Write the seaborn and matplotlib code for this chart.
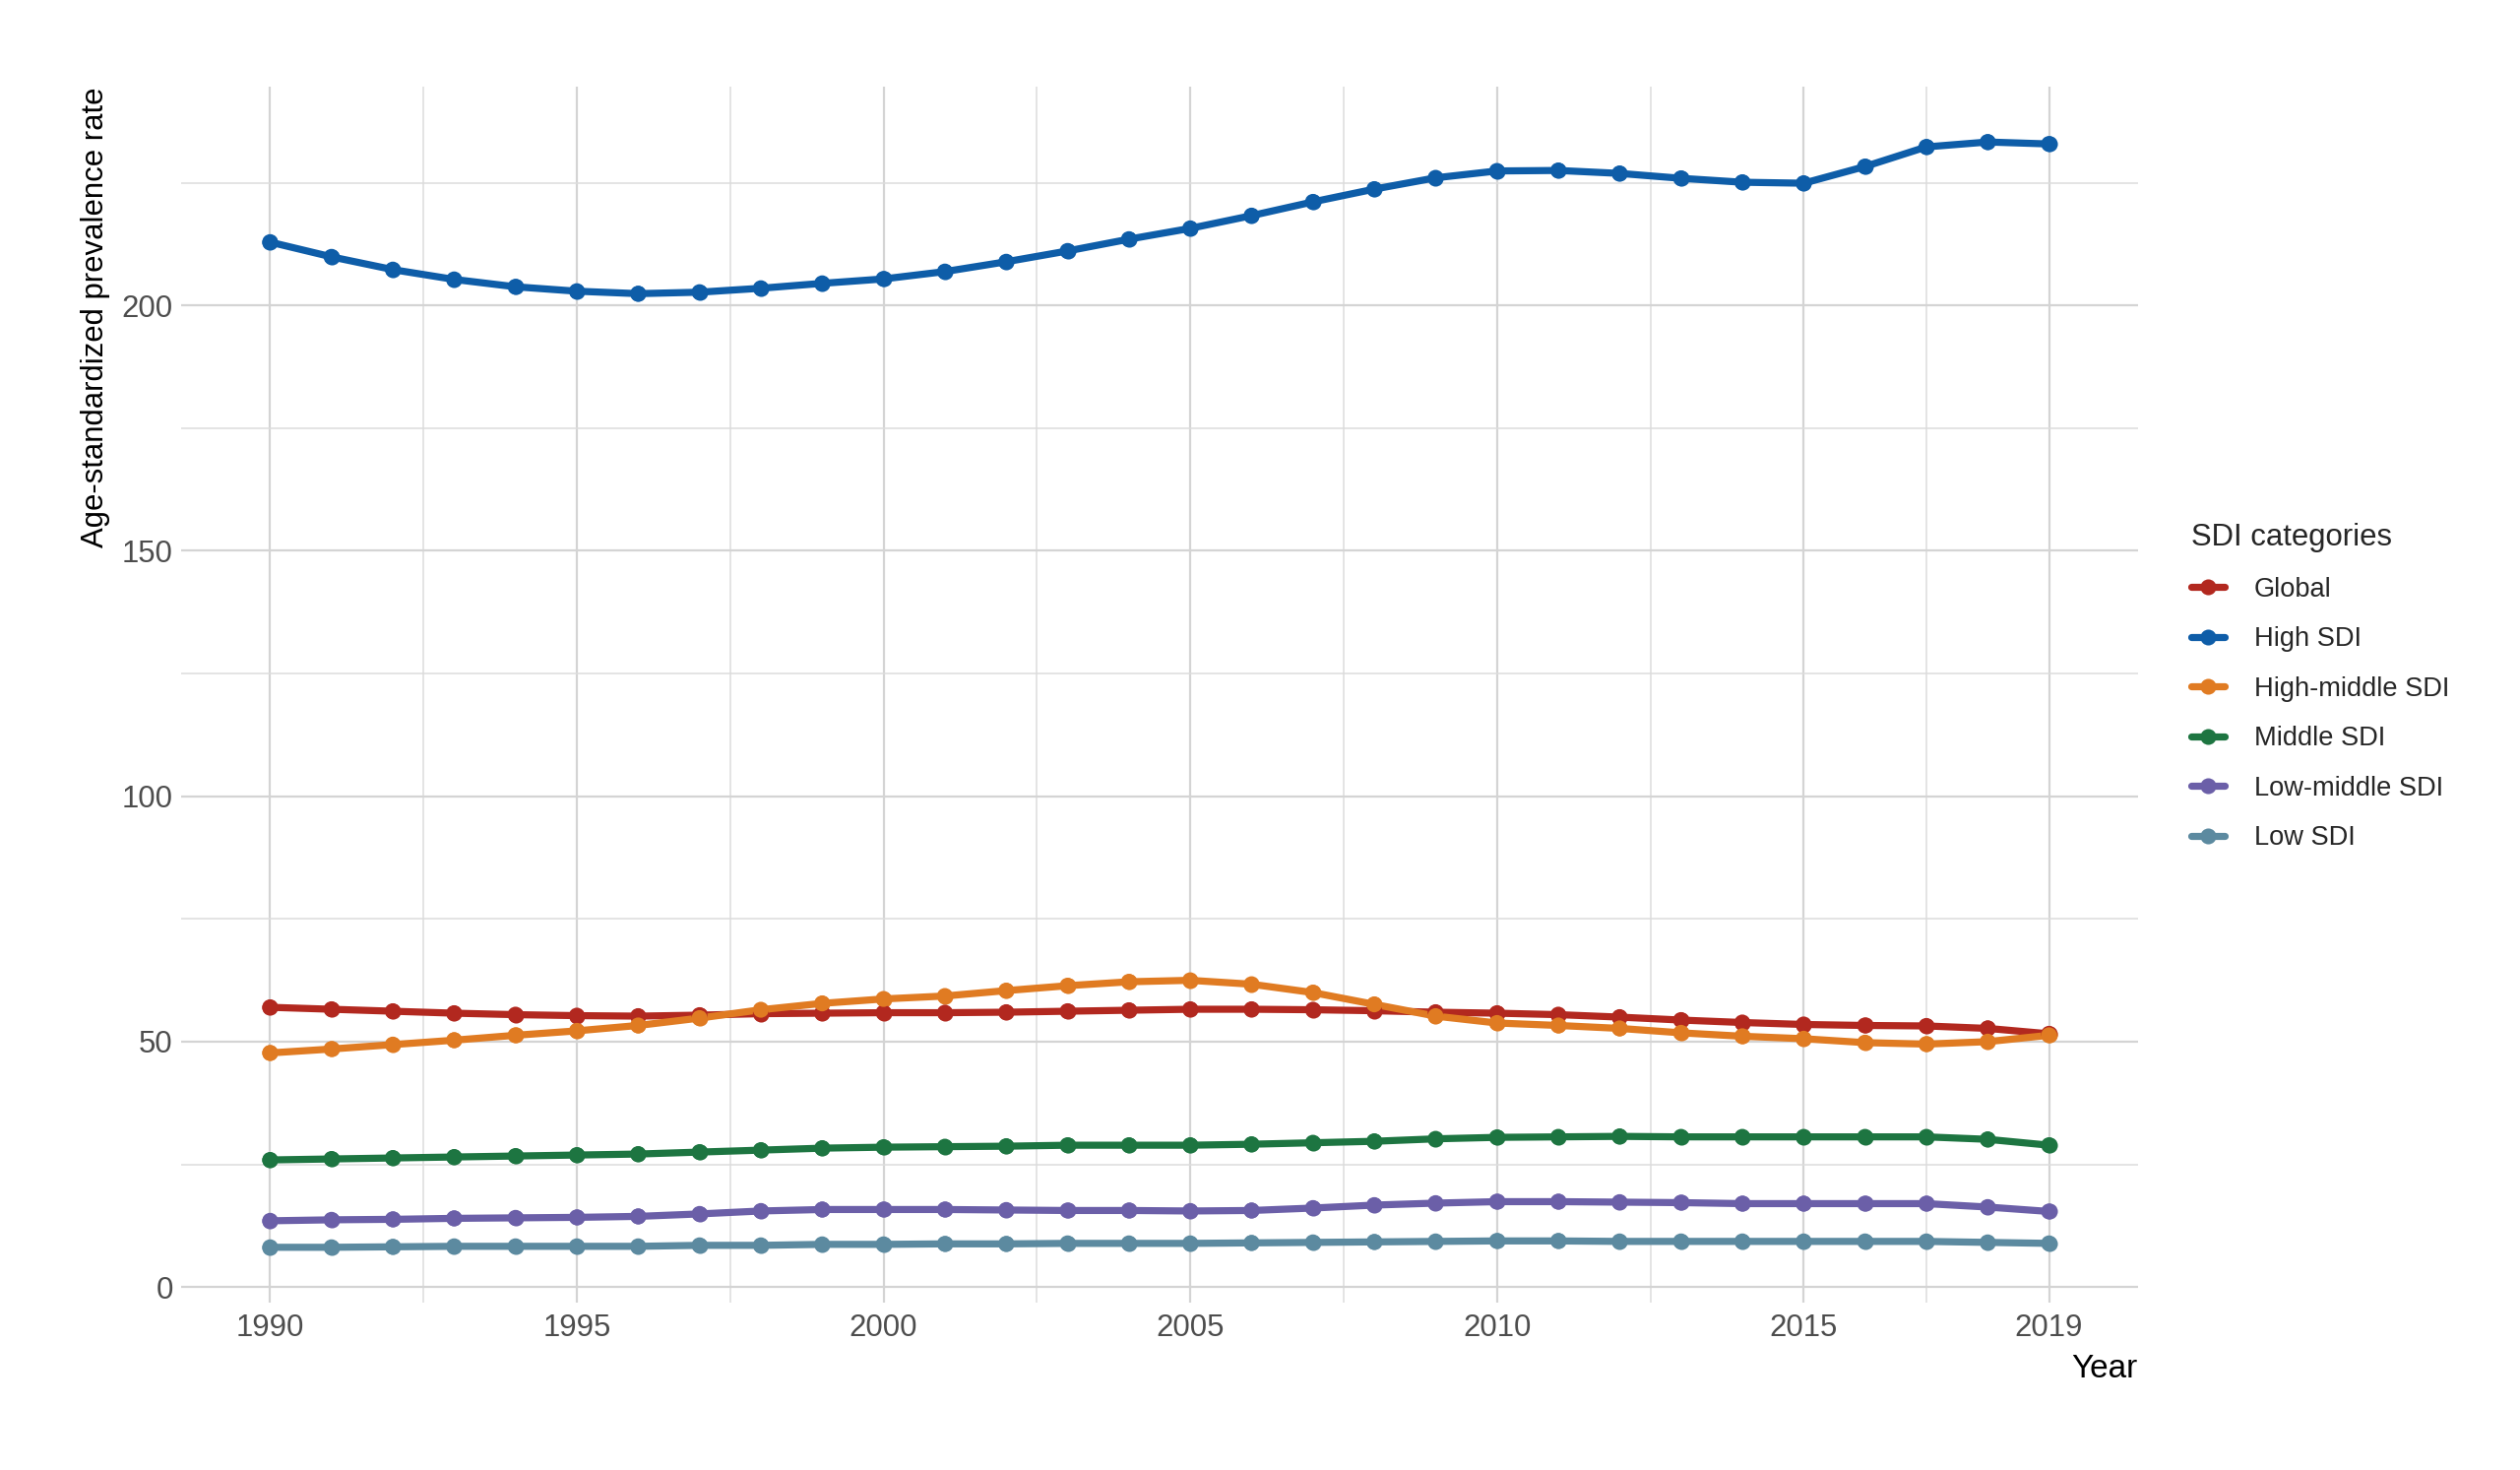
import numpy as np
import pandas as pd
import seaborn as sns
import matplotlib.pyplot as plt
from matplotlib.ticker import FixedLocator

# Age-standardized prevalence rate by SDI category, 1990-2019
years = list(range(1990, 2020))
categories = ['Global', 'High SDI', 'High-middle SDI', 'Middle SDI', 'Low-middle SDI', 'Low SDI']

global_rate = [57.0, 56.6, 56.2, 55.8, 55.5, 55.3, 55.2, 55.4, 55.7, 55.8,
               55.9, 55.9, 56.0, 56.2, 56.4, 56.6, 56.6, 56.5, 56.3, 56.0,
               55.8, 55.5, 55.0, 54.4, 53.9, 53.5, 53.3, 53.2, 52.7, 51.6]
high_sdi = [212.9, 209.9, 207.3, 205.3, 203.8, 202.9, 202.4, 202.7, 203.5, 204.5,
            205.4, 206.9, 208.9, 211.1, 213.5, 215.7, 218.3, 221.1, 223.7, 226.0,
            227.4, 227.5, 226.9, 225.9, 225.1, 224.9, 228.3, 232.3, 233.3, 232.9]
high_middle_sdi = [47.7, 48.5, 49.4, 50.3, 51.3, 52.2, 53.3, 54.8, 56.5, 57.8,
                   58.7, 59.3, 60.4, 61.4, 62.2, 62.5, 61.7, 60.0, 57.6, 55.2,
                   53.8, 53.3, 52.7, 51.8, 51.1, 50.6, 49.8, 49.5, 50.0, 51.3]
middle_sdi = [25.9, 26.1, 26.3, 26.5, 26.7, 26.9, 27.1, 27.5, 27.9, 28.3,
              28.5, 28.6, 28.7, 28.9, 28.9, 28.9, 29.1, 29.4, 29.7, 30.2,
              30.5, 30.6, 30.7, 30.6, 30.6, 30.6, 30.6, 30.6, 30.1, 28.9]
low_middle_sdi = [13.5, 13.7, 13.8, 14.0, 14.1, 14.2, 14.4, 14.9, 15.5, 15.8,
                  15.8, 15.8, 15.7, 15.6, 15.6, 15.5, 15.6, 16.1, 16.7, 17.1,
                  17.4, 17.4, 17.3, 17.2, 17.0, 17.0, 17.0, 17.0, 16.3, 15.4]
low_sdi = [8.1, 8.1, 8.2, 8.3, 8.3, 8.3, 8.3, 8.5, 8.5, 8.7,
           8.7, 8.8, 8.8, 8.9, 8.9, 8.9, 9.0, 9.1, 9.2, 9.3,
           9.4, 9.4, 9.3, 9.3, 9.3, 9.3, 9.3, 9.3, 9.1, 8.9]

colors = ['#B2281F', '#0E5DA8', '#E07B22', '#1D7541', '#6B5FA8', '#5C8AA0']

x_breaks = [1990, 1995, 2000, 2005, 2010, 2015, 2019]
x_minor = [1992.5, 1997.5, 2002.5, 2007.5, 2012.5, 2017]
y_breaks = [0, 50, 100, 150, 200]
y_minor = [25, 75, 125, 175, 225]

# Build long-format table
series = [global_rate, high_sdi, high_middle_sdi, middle_sdi, low_middle_sdi, low_sdi]
df = pd.concat([pd.DataFrame({'Year': years, 'Rate': vals, 'SDI': name})
                for name, vals in zip(categories, series)], ignore_index=True)

sns.set_theme(style='white')
plt.rcParams['font.family'] = ['Liberation Sans Narrow', 'Liberation Sans', 'DejaVu Sans']

fig, ax = plt.subplots(figsize=(12.8, 7.465), dpi=200)
fig.subplots_adjust(left=0.0719, right=0.8484, top=0.941, bottom=0.1139)

palette = dict(zip(categories, colors))
sns.lineplot(data=df, x='Year', y='Rate', hue='SDI', hue_order=categories,
             palette=palette, linewidth=2.6, marker='o', markersize=5.8,
             markeredgewidth=0, ax=ax, zorder=3)
# points above all lines, like a separate point layer
sns.scatterplot(data=df, x='Year', y='Rate', hue='SDI', hue_order=categories,
                palette=palette, s=34, linewidth=0, legend=False, ax=ax, zorder=4)

ax.xaxis.set_major_locator(FixedLocator(x_breaks))
ax.xaxis.set_minor_locator(FixedLocator(x_minor))
ax.yaxis.set_major_locator(FixedLocator(y_breaks))
ax.yaxis.set_minor_locator(FixedLocator(y_minor))
ax.grid(which='major', color='#D4D4D4', linewidth=0.8)
ax.grid(which='minor', color='#DCDCDC', linewidth=0.55)
ax.set_axisbelow(True)
for s in ax.spines.values():
    s.set_visible(False)
ax.tick_params(which='both', length=0, labelsize=11.2, labelcolor='#4D4D4D')
ax.tick_params(axis='y', pad=3)
ax.tick_params(axis='x', pad=4)

ax.set_xlabel('Year', loc='right', fontsize=12, color='black', labelpad=4)
ax.set_ylabel('Age-standardized prevalence rate', loc='top', fontsize=11.2,
              color='black', labelpad=4)

handles, labels = ax.get_legend_handles_labels()
leg = ax.legend(handles, labels, title='SDI categories', loc='upper left',
                bbox_to_anchor=(1.008, 0.672), frameon=False, fontsize=9.8,
                title_fontsize=11.2, labelspacing=0.9, handlelength=1.25,
                handletextpad=1.1, borderpad=0.4, borderaxespad=1.0)
leg._legend_box.align = 'left'

fig.savefig('out.png', dpi=200, facecolor='white')
